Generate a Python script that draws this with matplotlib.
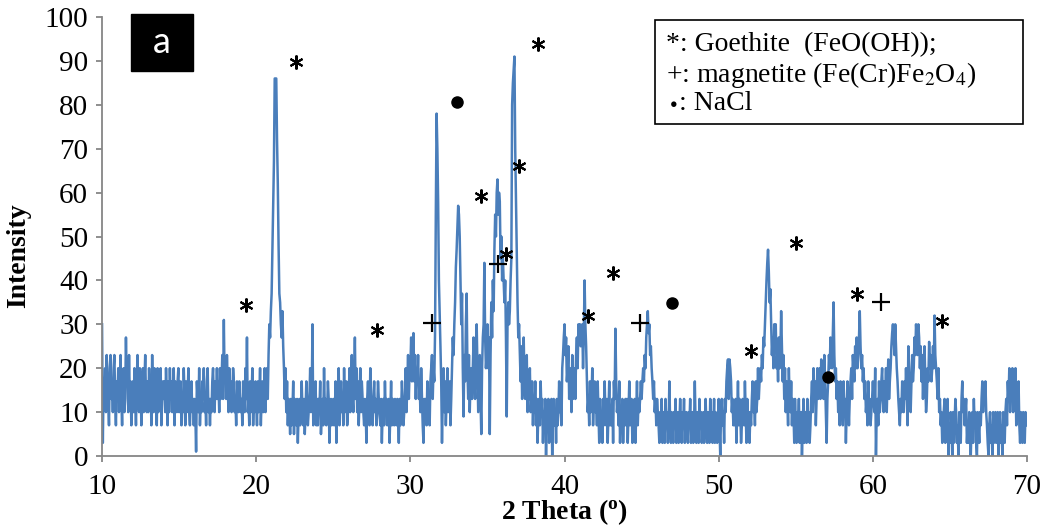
import numpy as np
import matplotlib
matplotlib.use("Agg")
import matplotlib.pyplot as plt
from matplotlib.patches import Rectangle

plt.rcParams['font.family'] = ['Liberation Serif', 'DejaVu Serif']
plt.rcParams['mathtext.fontset'] = 'stix'

# XRD scan, 0.05 deg steps, one row per degree of 2-theta
scan_10s = [
    [30, 3, 17, 13, 20, 10, 23, 17, 13, 7, 20, 23, 13, 17, 10, 20, 23, 13, 7, 17],
    [13, 20, 10, 17, 23, 13, 7, 17, 20, 10, 13, 27, 17, 20, 10, 23, 13, 17, 7, 13],
    [17, 10, 20, 13, 7, 17, 23, 13, 10, 20, 17, 7, 13, 20, 10, 17, 23, 13, 10, 17],
    [10, 20, 13, 17, 7, 23, 13, 10, 20, 17, 13, 7, 20, 10, 17, 13, 20, 7, 13, 17],
    [13, 17, 10, 20, 13, 7, 17, 10, 20, 13, 17, 10, 13, 20, 7, 17, 13, 10, 17, 20],
    [10, 13, 17, 7, 13, 10, 20, 13, 7, 17, 10, 13, 20, 10, 7, 13, 17, 10, 13, 7],
    [13, 10, 1, 17, 13, 10, 20, 7, 13, 10, 17, 13, 20, 10, 13, 7, 17, 20, 10, 13],
    [7, 13, 10, 17, 20, 13, 10, 17, 13, 20, 13, 17, 10, 20, 13, 17, 23, 13, 31, 17],
    [20, 13, 23, 17, 10, 20, 13, 17, 10, 13, 20, 17, 10, 13, 7, 17, 13, 10, 17, 13],
    [10, 13, 7, 17, 13, 10, 20, 13, 27, 10, 13, 7, 17, 10, 13, 20, 7, 13, 10, 17],
]
scan_20s = [
    [13, 7, 17, 10, 13, 20, 7, 13, 17, 10, 13, 20, 10, 17, 20, 13, 23, 30, 27, 33],
    [37, 47, 56, 67, 86, 86, 86, 72, 62, 48, 37, 35, 30, 27, 33, 25, 20, 13, 20, 10],
    [17, 7, 13, 10, 5, 13, 7, 10, 17, 5, 13, 10, 7, 13, 3, 10, 13, 7, 10, 17],
    [10, 7, 13, 5, 10, 17, 13, 7, 10, 13, 20, 10, 13, 30, 7, 13, 10, 17, 7, 13],
    [7, 13, 10, 17, 5, 10, 13, 7, 20, 10, 13, 7, 10, 17, 13, 3, 10, 13, 7, 10],
    [13, 7, 10, 17, 3, 13, 10, 20, 7, 13, 17, 10, 13, 7, 20, 10, 13, 17, 7, 10],
    [13, 20, 10, 17, 23, 13, 10, 17, 27, 13, 20, 10, 17, 7, 13, 20, 10, 17, 13, 10],
    [7, 13, 10, 3, 13, 17, 10, 7, 20, 13, 10, 7, 13, 17, 10, 13, 7, 10, 17, 13],
    [10, 7, 13, 3, 10, 13, 7, 17, 10, 13, 7, 10, 13, 3, 10, 17, 7, 13, 10, 7],
    [13, 10, 7, 13, 10, 3, 13, 7, 10, 17, 13, 7, 10, 13, 20, 10, 17, 23, 13, 20],
]
scan_30s = [
    [20, 27, 17, 23, 28, 17, 23, 13, 20, 17, 23, 13, 17, 10, 20, 13, 7, 3, 13, 10],
    [13, 7, 17, 10, 13, 7, 17, 20, 23, 13, 20, 17, 28, 55, 78, 70, 58, 40, 33, 25],
    [17, 3, 13, 20, 10, 17, 7, 13, 20, 10, 13, 17, 7, 13, 20, 27, 23, 30, 35, 43],
    [47, 52, 57, 55, 50, 40, 30, 37, 20, 9, 23, 17, 30, 37, 20, 13, 23, 10, 17, 20],
    [13, 20, 27, 17, 13, 23, 30, 20, 10, 17, 23, 13, 5, 20, 27, 30, 44, 27, 20, 23],
    [30, 20, 27, 5, 23, 35, 27, 40, 33, 47, 55, 50, 60, 63, 55, 60, 58, 45, 50, 40],
    [45, 40, 35, 40, 27, 9, 30, 35, 30, 33, 40, 45, 80, 85, 88, 91, 70, 58, 45, 35],
    [27, 30, 23, 17, 25, 13, 20, 27, 17, 13, 20, 23, 10, 17, 13, 20, 10, 13, 17, 7],
    [13, 10, 17, 7, 13, 3, 10, 13, 7, 17, 10, 13, 3, 10, 7, 13, 0, 10, 7, 13],
    [3, 10, 7, 13, 0, 10, 13, 7, 10, 3, 13, 7, 10, 17, 10, 13, 7, 20, 23, 27],
]
scan_40s = [
    [30, 23, 27, 17, 20, 25, 13, 20, 17, 10, 23, 13, 17, 20, 13, 23, 27, 20, 30, 27],
    [30, 25, 27, 30, 20, 28, 40, 30, 25, 17, 10, 13, 7, 17, 10, 13, 20, 7, 13, 17],
    [10, 13, 7, 17, 10, 3, 13, 7, 10, 3, 13, 7, 17, 10, 7, 13, 3, 10, 17, 7],
    [10, 7, 13, 3, 17, 13, 29, 17, 10, 13, 7, 17, 3, 10, 7, 13, 3, 10, 7, 13],
    [7, 13, 3, 10, 17, 7, 10, 13, 3, 10, 7, 13, 3, 10, 17, 7, 13, 10, 13, 17],
    [13, 17, 20, 17, 23, 20, 27, 30, 33, 28, 30, 23, 25, 20, 17, 13, 17, 10, 13, 7],
    [13, 10, 7, 3, 10, 7, 13, 3, 7, 10, 3, 13, 7, 10, 3, 7, 17, 7, 3, 10],
    [7, 3, 10, 7, 13, 3, 7, 10, 3, 7, 13, 7, 3, 10, 7, 13, 3, 7, 10, 7],
    [3, 10, 7, 13, 3, 7, 10, 3, 7, 17, 7, 3, 10, 7, 3, 13, 7, 10, 3, 7],
    [10, 3, 7, 13, 7, 3, 10, 7, 3, 13, 7, 10, 3, 7, 13, 3, 10, 7, 3, 7],
]
scan_50s = [
    [13, 7, 0, 10, 13, 7, 10, 3, 13, 10, 17, 20, 22, 13, 22, 20, 17, 10, 13, 7],
    [10, 7, 13, 3, 10, 17, 7, 13, 10, 3, 7, 13, 10, 7, 17, 10, 3, 13, 7, 10],
    [3, 10, 7, 13, 17, 10, 13, 7, 17, 10, 13, 20, 13, 17, 20, 17, 23, 20, 27, 25],
    [30, 35, 40, 44, 47, 42, 35, 38, 30, 23, 27, 20, 30, 25, 30, 20, 23, 17, 27, 20],
    [23, 33, 25, 17, 23, 13, 20, 10, 17, 13, 7, 20, 13, 10, 17, 7, 13, 10, 3, 13],
    [7, 3, 10, 7, 13, 3, 7, 10, 0, 7, 13, 3, 10, 7, 3, 13, 7, 10, 3, 7],
    [13, 17, 10, 20, 13, 17, 7, 13, 20, 13, 17, 20, 13, 22, 17, 20, 13, 23, 17, 10],
    [3, 13, 17, 23, 20, 27, 23, 20, 27, 35, 23, 17, 20, 13, 17, 10, 13, 7, 17, 10],
    [13, 7, 17, 10, 13, 3, 10, 17, 13, 7, 13, 17, 20, 13, 23, 20, 17, 25, 20, 27],
    [20, 23, 27, 33, 25, 20, 23, 17, 20, 13, 17, 10, 13, 7, 17, 10, 13, 7, 10, 13],
]
scan_60s = [
    [17, 13, 10, 20, 0, 10, 13, 7, 17, 10, 13, 17, 20, 13, 10, 17, 13, 20, 10, 17],
    [22, 13, 17, 20, 25, 28, 30, 27, 23, 30, 25, 20, 17, 13, 10, 7, 13, 10, 17, 13],
    [10, 17, 13, 20, 13, 7, 25, 20, 13, 10, 17, 23, 17, 20, 27, 23, 30, 27, 23, 30],
    [27, 20, 25, 17, 23, 13, 20, 25, 17, 10, 13, 20, 17, 26, 20, 23, 17, 20, 25, 20],
    [32, 23, 20, 17, 13, 20, 10, 13, 7, 10, 3, 7, 10, 13, 3, 10, 7, 13, 0, 7],
    [3, 10, 7, 0, 10, 3, 7, 13, 10, 3, 7, 0, 10, 7, 3, 13, 17, 10, 13, 7],
    [10, 13, 3, 7, 3, 10, 7, 0, 7, 10, 3, 13, 7, 10, 3, 0, 10, 7, 3, 10],
    [7, 13, 17, 10, 15, 13, 17, 10, 7, 3, 0, 7, 10, 3, 7, 0, 10, 3, 7, 10],
    [3, 7, 10, 0, 7, 10, 3, 7, 0, 10, 7, 3, 10, 13, 7, 17, 13, 20, 10, 17],
    [13, 20, 10, 17, 13, 20, 7, 13, 10, 17, 7, 3, 10, 7, 3, 10, 7, 3, 10, 7],
]
last_point = 7  # 2-theta = 70

# phase markers: (2-theta, height)
goethite = [(19.34, 34.4), (22.58, 89.7), (27.83, 28.7), (34.58, 59.2), (36.2, 46.0),
            (37.04, 66.0), (38.27, 93.8), (41.5, 32.0), (43.14, 41.7), (52.1, 24.0),
            (55.0, 48.5), (59.0, 36.9), (64.47, 30.8)]
magnetite = [(31.4, 30.3), (35.68, 43.7), (44.9, 30.3), (60.5, 35.0)]
nacl = [(33.0, 80.6), (47.0, 34.9), (57.08, 18.0)]

two_theta = []
intensity = []
for start, block in [(10, scan_10s), (20, scan_20s), (30, scan_30s),
                     (40, scan_40s), (50, scan_50s), (60, scan_60s)]:
    for k, row in enumerate(block):
        for i, v in enumerate(row):
            two_theta.append(start + k + 0.05 * i)
            intensity.append(v)
two_theta.append(70)
intensity.append(last_point)

fig = plt.figure(figsize=(10.51, 5.27), dpi=100)
ax = fig.add_axes([0.0971, 0.1347, 0.8801, 0.833])
ax.plot(two_theta, intensity, color='#4a7ebb', lw=1.8)

ax.set_xlim(10, 70)
ax.set_ylim(0, 100)
ax.set_xticks(range(10, 71, 10))
ax.set_yticks(range(0, 101, 10))
for s in ['top', 'right']:
    ax.spines[s].set_visible(False)
for s in ['left', 'bottom']:
    ax.spines[s].set_color('#868686')
    ax.spines[s].set_linewidth(1.3)
ax.tick_params(colors='#868686', labelcolor='black', labelsize=21, length=4, width=1.3)
ax.tick_params(axis='y', pad=6)
ax.tick_params(axis='x', pad=9)

ax.set_ylabel('Intensity', fontsize=20, fontweight='bold')
ax.set_xlabel('2 Theta ($\\mathregular{^{o}}$)', fontsize=20, fontweight='bold')
ax.yaxis.set_label_coords(-0.077, 0.456)
ax.xaxis.set_label_coords(0.5, -0.095)

# phase symbols
gx, gy = zip(*goethite)
ax.plot(gx, gy, ls='none', marker=(6, 2, 0), ms=10, mew=1.5, color='black')
mx, my = zip(*magnetite)
ax.plot(mx, my, ls='none', marker='+', ms=13, mew=1.6, color='black')
nx, ny = zip(*nacl)
ax.plot(nx, ny, ls='none', marker='o', ms=8, color='black')

# panel label
ax.add_patch(Rectangle((0.031, 0.878), 0.067, 0.13, transform=ax.transAxes,
                       color='black', clip_on=False))
ax.text(0.0645, 0.943, 'a', transform=ax.transAxes, color='white', fontsize=26,
        family='Lato', ha='center', va='center')

# legend box
fig.patches.append(Rectangle((655 / 1051, 1 - 124 / 527), 368 / 1051, 104 / 527,
                             transform=fig.transFigure, fill=False, ec='black', lw=1.2))
fig.text(666 / 1051, 1 - 45 / 527, '*: Goethite  (FeO(OH));', fontsize=20, va='center')
fig.text(666 / 1051, 1 - 75 / 527, '+: magnetite (Fe(Cr)Fe$_2$O$_4$)', fontsize=20, va='center')
fig.text(670 / 1051, 1 - 105 / 527, '\u25cf', fontsize=9, va='center')
fig.text(679 / 1051, 1 - 104 / 527, ': NaCl', fontsize=20, va='center')

fig.savefig('out.png', dpi=100)
